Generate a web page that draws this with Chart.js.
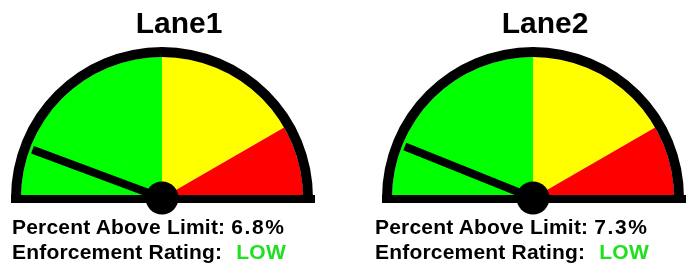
<!DOCTYPE html>
<html>
<head>
<meta charset="utf-8">
<script src="https://cdn.jsdelivr.net/npm/chart.js@4.4.1/dist/chart.umd.min.js"></script>
<style>
  html, body { margin: 0; padding: 0; background: #fff; }
  body { width: 690px; height: 266px; position: relative; overflow: hidden; font-family: "Liberation Sans", Arial, sans-serif; }
  .gauge { position: absolute; top: 0; width: 345px; height: 266px; }
  .title { position: absolute; top: 6px; width: 200px; text-align: center; font-weight: bold; font-size: 30px; line-height: 34px; color: #000; }
  .info { position: absolute; font-weight: bold; font-size: 21px; line-height: 25px; color: #000; white-space: nowrap; letter-spacing: 0.2px; }
  .num { letter-spacing: 1.6px; }
  .rating { color: #1ee01e; margin-left: 14px; }
</style>
</head>
<body>
<div class="gauge" style="left:0"><canvas id="gauge1"></canvas></div>
<div class="gauge" style="left:345px"><canvas id="gauge2"></canvas></div>
<div class="title" id="title1" style="left:79px"></div>
<div class="title" id="title2" style="left:445px"></div>
<div class="info" id="pct1" style="left:12px; top:214px"></div>
<div class="info" id="rate1" style="left:12px; top:239px"></div>
<div class="info" id="pct2" style="left:375px; top:214px"></div>
<div class="info" id="rate2" style="left:375px; top:239px"></div>
<script>
const lanes = ["Lane1", "Lane2"];
const percentAbove = [6.8, 7.3];
const ratings = ["LOW", "LOW"];
const zoneLabels = ["Low", "Medium", "High"];
const zoneSizes = [30, 20, 10];
const zoneColors = ["#00ff00", "#ffff00", "#ff0000"];
const gaugeMax = 60;

// draws baseline, needle and hub on top of the arcs
const gaugeDecor = {
  id: "gaugeDecor",
  afterDatasetsDraw(chart, args, opts) {
    const ctx = chart.ctx;
    const outer = chart.getDatasetMeta(0).data[0];
    const inner = chart.getDatasetMeta(1).data[0];
    const cx = outer.x, cy = outer.y;
    const R = outer.outerRadius;

    ctx.save();
    ctx.fillStyle = "#000";
    ctx.fillRect(cx - R, cy - 3, 2 * R + 2, 8);

    const a = Math.PI + (opts.value / gaugeMax) * Math.PI;
    const len = inner.outerRadius * 0.98;
    ctx.strokeStyle = "#000";
    ctx.lineWidth = 8;
    ctx.lineCap = "butt";
    ctx.beginPath();
    ctx.moveTo(cx, cy);
    ctx.lineTo(cx + len * Math.cos(a), cy + len * Math.sin(a));
    ctx.stroke();

    ctx.beginPath();
    ctx.arc(cx, cy, 16.5, 0, Math.PI * 2);
    ctx.fill();
    ctx.restore();
  }
};

function makeGauge(id, i, padLeft, padRight) {
  document.getElementById("title" + (i + 1)).textContent = lanes[i];
  document.getElementById("pct" + (i + 1)).innerHTML =
    "Percent Above Limit: <span class=\"num\">" + percentAbove[i] + "%</span>";
  document.getElementById("rate" + (i + 1)).innerHTML =
    "Enforcement Rating:<span class=\"rating\">" + ratings[i] + "</span>";

  return new Chart(document.getElementById(id), {
    type: "doughnut",
    data: {
      labels: zoneLabels,
      datasets: [
        {
          data: [gaugeMax],
          backgroundColor: ["#000"],
          borderWidth: 0,
          weight: 10,
        },
        {
          data: zoneSizes,
          backgroundColor: zoneColors,
          borderWidth: 0,
          weight: 141,
        },
      ],
    },
    options: {
      responsive: true,
      maintainAspectRatio: false,
      animation: false,
      rotation: -90,
      circumference: 180,
      cutout: 0,
      layout: { padding: { left: padLeft, right: padRight, top: 47, bottom: 68 } },
      plugins: {
        legend: { display: false },
        tooltip: { enabled: false },
        gaugeDecor: { value: percentAbove[i] },
      },
    },
    plugins: [gaugeDecor],
  });
}

makeGauge("gauge1", 0, 11, 32);
makeGauge("gauge2", 1, 37, 6);
</script>
</body>
</html>
